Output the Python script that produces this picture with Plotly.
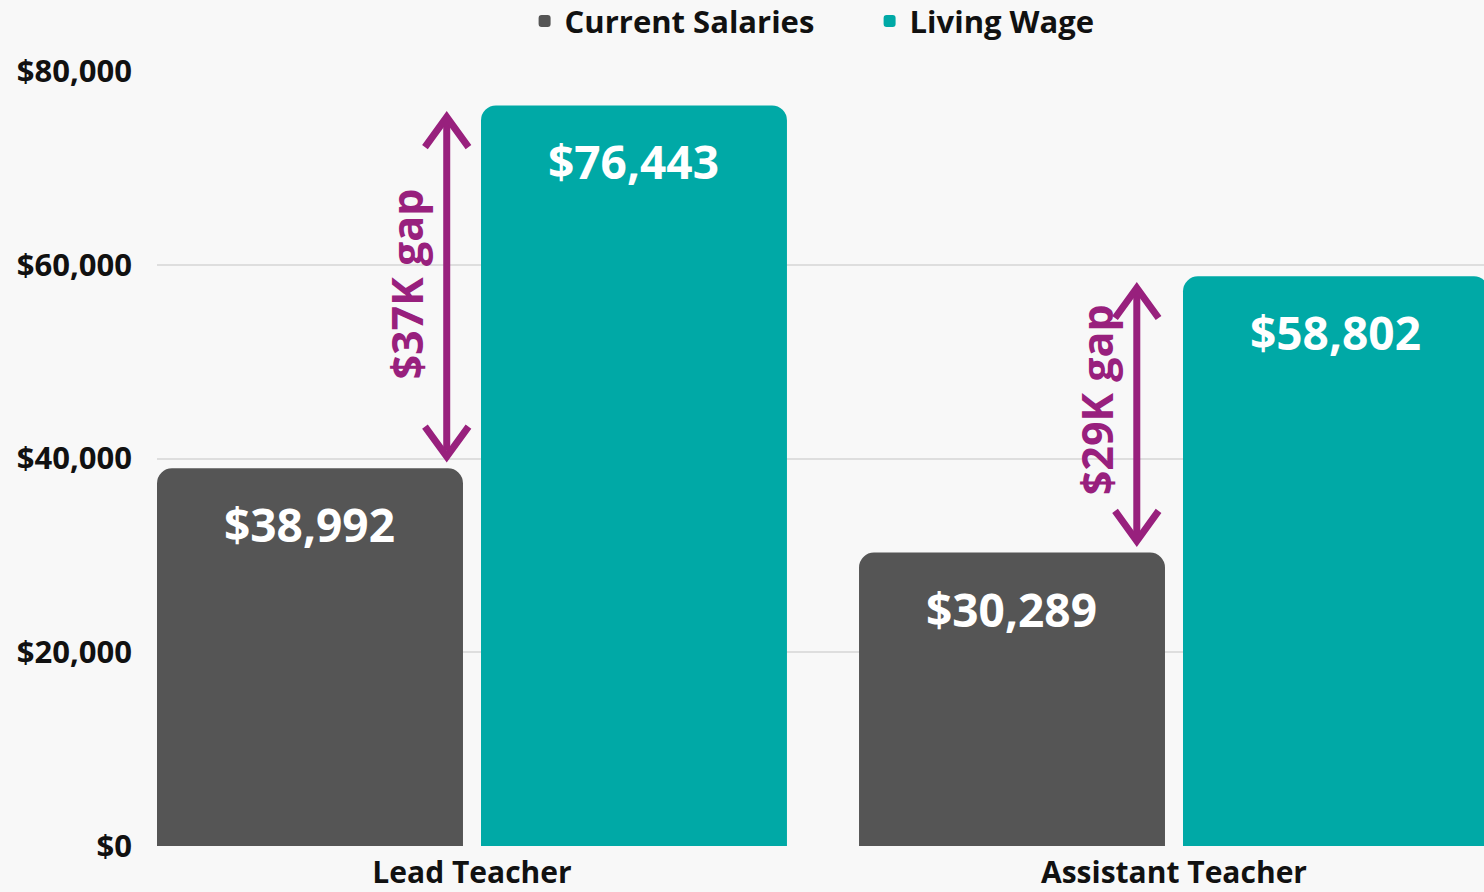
import plotly.graph_objects as go

# ---- data ----
categories = ["Lead Teacher", "Assistant Teacher"]
current_salaries = [38992, 30289]
living_wage = [76443, 58802]
gap_labels = ["$37K gap", "$29K gap"]
y_tick_values = [0, 20000, 40000, 60000, 80000]
y_tick_labels = ["$0", "$20,000", "$40,000", "$60,000", "$80,000"]

# ---- style ----
DARK = "#555555"
TEAL = "#00A9A6"
PURPLE = "#98207D"
BG = "#F8F8F8"
GRID = "#DEDEDE"
FONT = "Open Sans"

fig = go.Figure()
fig.add_bar(name="Current Salaries", x=categories, y=current_salaries,
            marker_color=DARK, marker_line_width=0)
fig.add_bar(name="Living Wage", x=categories, y=living_wage,
            marker_color=TEAL, marker_line_width=0)

annotations = []
for i, cat in enumerate(categories):
    for val, xs in ((current_salaries[i], -162), (living_wage[i], 162)):
        annotations.append(dict(
            x=cat, y=val, xref="x", yref="y", xshift=xs, yshift=-56,
            yanchor="middle", showarrow=False, text=f"${val:,}",
            font=dict(family=FONT, size=46, color="white", weight="bold")))

# arrows between the bars
arrow_offset = [-0.036, -0.053]   # category units
tip_pad_top = 1200
tip_pad_bottom = 1200
chev_dx = 0.031
chev_dy = 3100
text_yshift = [3, 15]
shapes = []
for i in range(len(categories)):
    xa = i + arrow_offset[i]
    top = living_wage[i] - tip_pad_top
    bot = current_salaries[i] + tip_pad_bottom
    line = dict(color=PURPLE, width=7)
    shapes.append(dict(type="line", xref="x", yref="y", x0=xa, x1=xa,
                       y0=bot + 600, y1=top - 600, line=line))
    shapes.append(dict(type="path", xref="x", yref="y", line=line,
                       path=f"M {xa-chev_dx},{top-chev_dy} L {xa},{top} L {xa+chev_dx},{top-chev_dy}"))
    shapes.append(dict(type="path", xref="x", yref="y", line=line,
                       path=f"M {xa-chev_dx},{bot+chev_dy} L {xa},{bot} L {xa+chev_dx},{bot+chev_dy}"))
    annotations.append(dict(
        x=xa, y=(living_wage[i] + current_salaries[i]) / 2, xref="x", yref="y",
        xshift=-40, yshift=text_yshift[i], textangle=-90, showarrow=False,
        text=gap_labels[i],
        font=dict(family=FONT, size=43, color=PURPLE, weight="bold")))

fig.update_layout(
    width=1484, height=892,
    paper_bgcolor=BG, plot_bgcolor=BG,
    margin=dict(l=157, r=0, t=71, b=46, autoexpand=False),
    barmode="group", bargap=0.077, bargroupgap=0.0556, barcornerradius=15,
    font=dict(family=FONT, color="#111111"),
    legend=dict(orientation="h", x=0.537, xanchor="center", y=1.099, yanchor="top",
                font=dict(family=FONT, size=31, color="#111111", weight="bold"),
                entrywidth=300, bgcolor="rgba(0,0,0,0)"),
    xaxis=dict(range=[-0.4487, 1.4416], showgrid=False, ticks="", zeroline=False,
               ticklabelstandoff=6, automargin=False,
               tickfont=dict(family=FONT, size=30, color="#111111", weight="bold")),
    yaxis=dict(range=[0, 80000], tickvals=y_tick_values, ticktext=y_tick_labels,
               showgrid=True, gridcolor=GRID, gridwidth=2, zeroline=False,
               ticks="", ticklabelstandoff=24, automargin=False,
               tickfont=dict(family=FONT, size=31, color="#111111", weight="bold")),
    shapes=shapes, annotations=annotations,
)

fig.write_html("out.html", config={"displayModeBar": False},
               post_script="document.body.style.margin='0';document.body.style.overflow='hidden';")
